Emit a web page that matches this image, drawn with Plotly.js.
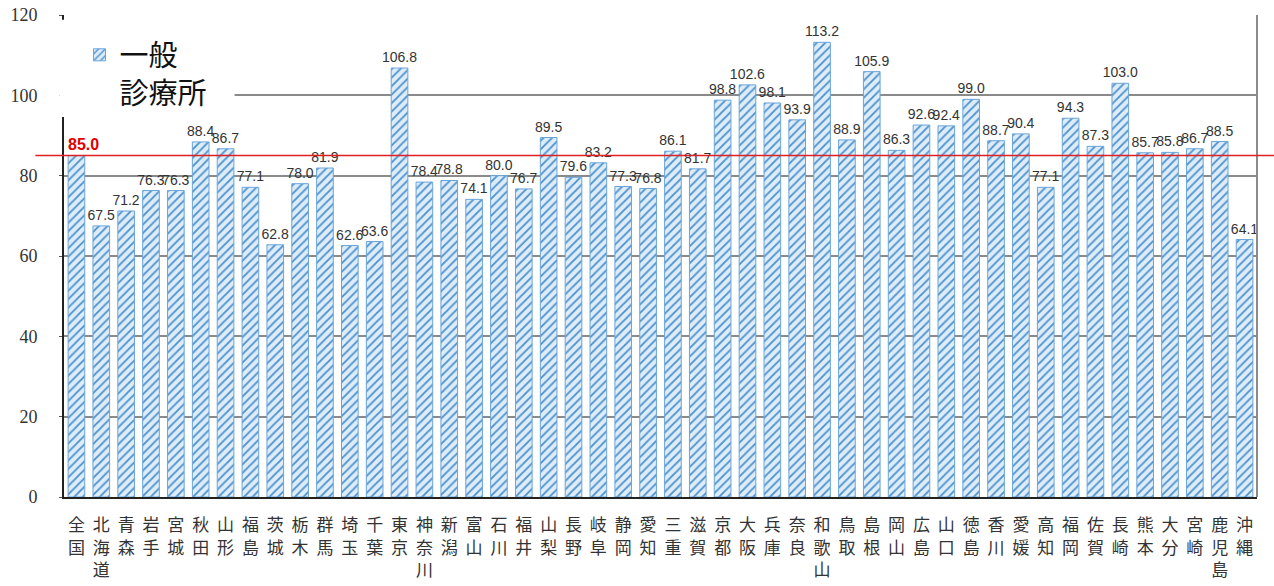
<!DOCTYPE html>
<html>
<head>
<meta charset="utf-8">
<script src="https://cdn.plot.ly/plotly-3.0.1.min.js"></script>
<style>
html,body{margin:0;padding:0;background:#fff;}
#chart{width:1274px;height:586px;}
</style>
</head>
<body>
<div id="chart"></div>
<script>
const prefectures = ['全国','北海道','青森','岩手','宮城','秋田','山形','福島','茨城','栃木','群馬','埼玉','千葉','東京','神奈川','新潟','富山','石川','福井','山梨','長野','岐阜','静岡','愛知','三重','滋賀','京都','大阪','兵庫','奈良','和歌山','鳥取','島根','岡山','広島','山口','徳島','香川','愛媛','高知','福岡','佐賀','長崎','熊本','大分','宮崎','鹿児島','沖縄'];
const values = [85.0,67.5,71.2,76.3,76.3,88.4,86.7,77.1,62.8,78.0,81.9,62.6,63.6,106.8,78.4,78.8,74.1,80.0,76.7,89.5,79.6,83.2,77.3,76.8,86.1,81.7,98.8,102.6,98.1,93.9,113.2,88.9,105.9,86.3,92.6,92.4,99.0,88.7,90.4,77.1,94.3,87.3,103.0,85.7,85.8,86.7,88.5,64.1];
const nationalValue = 85.0;
const seriesName = '一般<br>診療所';
const yTicks = [0,20,40,60,80,100,120];

const tickText = prefectures.map(n => n.split('').join('<br>'));
const labelText = values.map((v,i) => i === 0 ? '' : v.toFixed(1));

const trace = {
  type: 'bar',
  x: prefectures,
  y: values,
  name: seriesName,
  text: labelText,
  textposition: 'outside',
  constraintext: 'none',
  cliponaxis: false,
  textfont: {family: 'Liberation Sans, Arial, sans-serif', color: '#333333', size: 14},
  marker: {
    color: '#dcedf9',
    line: {color: '#6aa5da', width: 1},
    pattern: {shape: '/', fgcolor: '#4f8fcc', bgcolor: '#dcedf9', size: 6, solidity: 0.3}
  },
  hoverinfo: 'x+y'
};

const layout = {
  width: 1274, height: 586,
  margin: {l: 64, r: 17, t: 15, b: 89},
  paper_bgcolor: '#ffffff',
  plot_bgcolor: '#ffffff',
  bargap: 0.33,
  showlegend: true,
  legend: {
    x: 0.013, y: 0.97, xanchor: 'left', yanchor: 'top',
    bgcolor: 'rgba(255,255,255,0)',
    font: {family: 'Noto Sans CJK JP, sans-serif', size: 29, color: '#111'},
    valign: 'top',
    itemwidth: 30
  },
  xaxis: {
    type: 'category',
    tickmode: 'array',
    tickvals: prefectures,
    ticktext: tickText,
    tickangle: 0,
    tickfont: {family: 'Noto Sans CJK JP, sans-serif', size: 17, color: '#333'},
    showline: true, linecolor: '#222', linewidth: 2,
    ticks: '', showgrid: false,
    ticklabelstandoff: 12,
    automargin: false
  },
  yaxis: {
    range: [0, 120],
    tickmode: 'array',
    tickvals: yTicks,
    ticktext: yTicks.map(String),
    tickfont: {family: 'Liberation Serif, Times New Roman, serif', size: 18, color: '#333'},
    showline: true, linecolor: '#222', linewidth: 2,
    showgrid: true, gridcolor: '#8a8a8a', gridwidth: 2,
    zeroline: false,
    ticks: 'outside', ticklen: 3, tickcolor: '#555',
    ticklabelstandoff: 18,
    automargin: false
  },
  annotations: [
    {x: prefectures[0], y: nationalValue, xref: 'x', yref: 'y',
     text: '<b>' + nationalValue.toFixed(1) + '</b>', showarrow: false,
     xanchor: 'left', yanchor: 'bottom', xshift: -10, yshift: 1,
     font: {family: 'Liberation Sans, Arial, sans-serif', size: 16, color: '#e00000'}}
  ],
  shapes: [
    {type: 'rect', xref: 'paper', yref: 'y', x0: -0.004, x1: 0.143, y0: 94.6, y1: 118.8,
     fillcolor: '#ffffff', line: {width: 0}, layer: 'above'},
    {type: 'line', xref: 'paper', yref: 'paper', x0: 1, x1: 1, y0: 0, y1: 1,
     line: {color: '#8a8a8a', width: 2}},
    {type: 'line', xref: 'paper', yref: 'y', x0: -0.024, x1: 1.02, y0: nationalValue, y1: nationalValue,
     line: {color: '#e02020', width: 1.5}, layer: 'above'}
  ]
};

Plotly.newPlot('chart', [trace], layout, {displayModeBar: false, staticPlot: true});
</script>
</body>
</html>
